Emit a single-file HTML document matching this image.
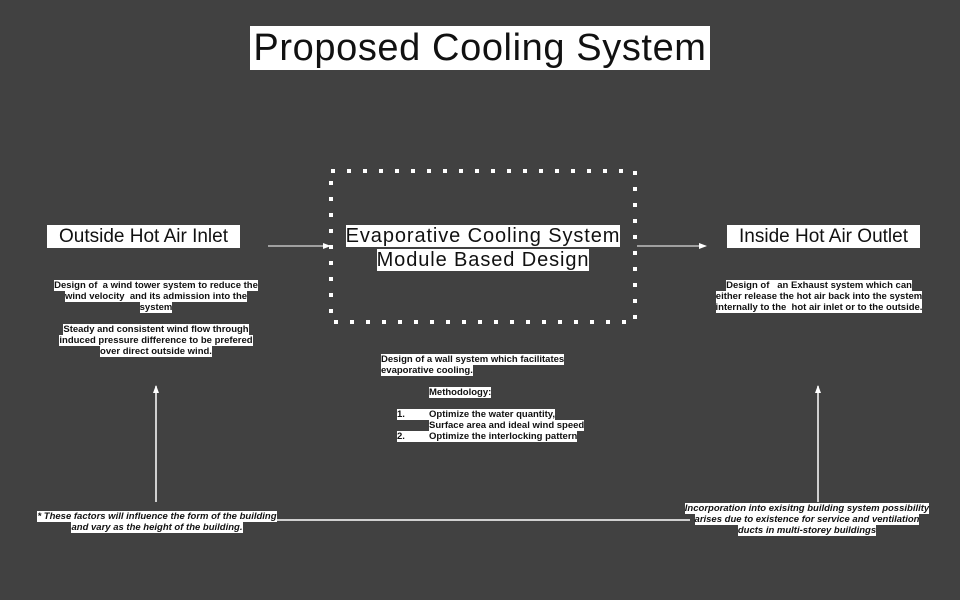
<!DOCTYPE html>
<html><head><style>
body{margin:0;width:960px;height:600px;background:#414141;position:relative;overflow:hidden;font-family:"Liberation Sans",sans-serif}
.a{position:absolute;text-align:center;white-space:nowrap}
.h{background:#fff;color:#111;box-decoration-break:clone;-webkit-box-decoration-break:clone}
.s{font-size:9.5px;font-weight:bold;line-height:11px;color:#222}
.i{font-style:italic}
</style></head><body>
<div class="a" style="left:250px;top:26px;width:460px;height:44px;background:#fff;color:#111;font-size:38px;line-height:44px;letter-spacing:0.6px">Proposed Cooling System</div>
<svg width="960" height="600" style="position:absolute;left:0;top:0">
<defs><marker id="m" markerWidth="8" markerHeight="8" refX="7" refY="4" orient="auto" markerUnits="userSpaceOnUse"><path d="M0,1 L8,4 L0,7z" fill="#fff"/></marker></defs>
<rect x="331" y="171" width="304" height="151" fill="none" stroke="#fff" stroke-width="4" stroke-dasharray="4 12"/>
<line x1="268" y1="246" x2="330" y2="246" stroke="#fff" stroke-width="1" marker-end="url(#m)"/>
<line x1="637" y1="246" x2="706" y2="246" stroke="#fff" stroke-width="1" marker-end="url(#m)"/>
<line x1="156" y1="502" x2="156" y2="386" stroke="#fff" stroke-width="1.5" marker-end="url(#m)"/>
<line x1="818" y1="502" x2="818" y2="386" stroke="#fff" stroke-width="1.5" marker-end="url(#m)"/>
<line x1="276" y1="520" x2="690" y2="520" stroke="#fff" stroke-width="1.5"/>
</svg>
<div class="a" style="left:47px;top:225px;width:193px;height:23px;background:#fff;color:#111;font-size:19px;line-height:23px">Outside Hot Air Inlet</div>
<div class="a" style="left:727px;top:225px;width:193px;height:23px;background:#fff;color:#111;font-size:19px;line-height:23px">Inside Hot Air Outlet</div>
<div class="a" style="left:330px;top:224px;width:306px;font-size:20px;line-height:24px;color:#111;letter-spacing:0.9px"><span class="h">Evaporative Cooling System</span><br><span class="h">Module Based Design</span></div>
<div class="a s" style="left:40px;top:280px;width:232px"><span class="h">Design of &nbsp;a wind tower system to reduce the<br>wind velocity &nbsp;and its admission into the<br>system</span></div>
<div class="a s" style="left:40px;top:324px;width:232px"><span class="h">Steady and consistent wind flow through<br>induced pressure difference to be prefered<br>over direct outside wind.</span></div>
<div class="a s" style="left:708px;top:280px;width:222px"><span class="h">Design of &nbsp;&nbsp;an Exhaust system which can<br>either release the hot air back into the system<br>internally to the &nbsp;hot air inlet or to the outside.</span></div>
<div class="a s" style="left:381px;top:354px;text-align:left"><span class="h">Design of a wall system which facilitates<br>evaporative cooling.</span></div>
<div class="a s" style="left:429px;top:387px;text-align:left"><span class="h">Methodology:</span></div>
<div class="a s" style="left:397px;top:409px;text-align:left"><span class="h">1.&nbsp;&nbsp;&nbsp;&nbsp;&nbsp;&nbsp;&nbsp;&nbsp;&nbsp;&nbsp;</span></div>
<div class="a s" style="left:429px;top:409px;text-align:left"><span class="h">Optimize the water quantity,<br>Surface area and ideal wind speed</span></div>
<div class="a s" style="left:397px;top:431px;text-align:left"><span class="h">2.&nbsp;&nbsp;&nbsp;&nbsp;&nbsp;&nbsp;&nbsp;&nbsp;&nbsp;&nbsp;</span></div>
<div class="a s" style="left:429px;top:431px;text-align:left"><span class="h">Optimize the interlocking pattern</span></div>
<div class="a s i" style="left:32px;top:511px;width:250px"><span class="h">* These factors will influence the form of the building<br>and vary as the height of the building.</span></div>
<div class="a s i" style="left:682px;top:503px;width:250px"><span class="h">Incorporation into exisitng building system possibility<br>arises due to existence for service and ventilation<br>ducts in multi-storey buildings</span></div>
</body></html>
